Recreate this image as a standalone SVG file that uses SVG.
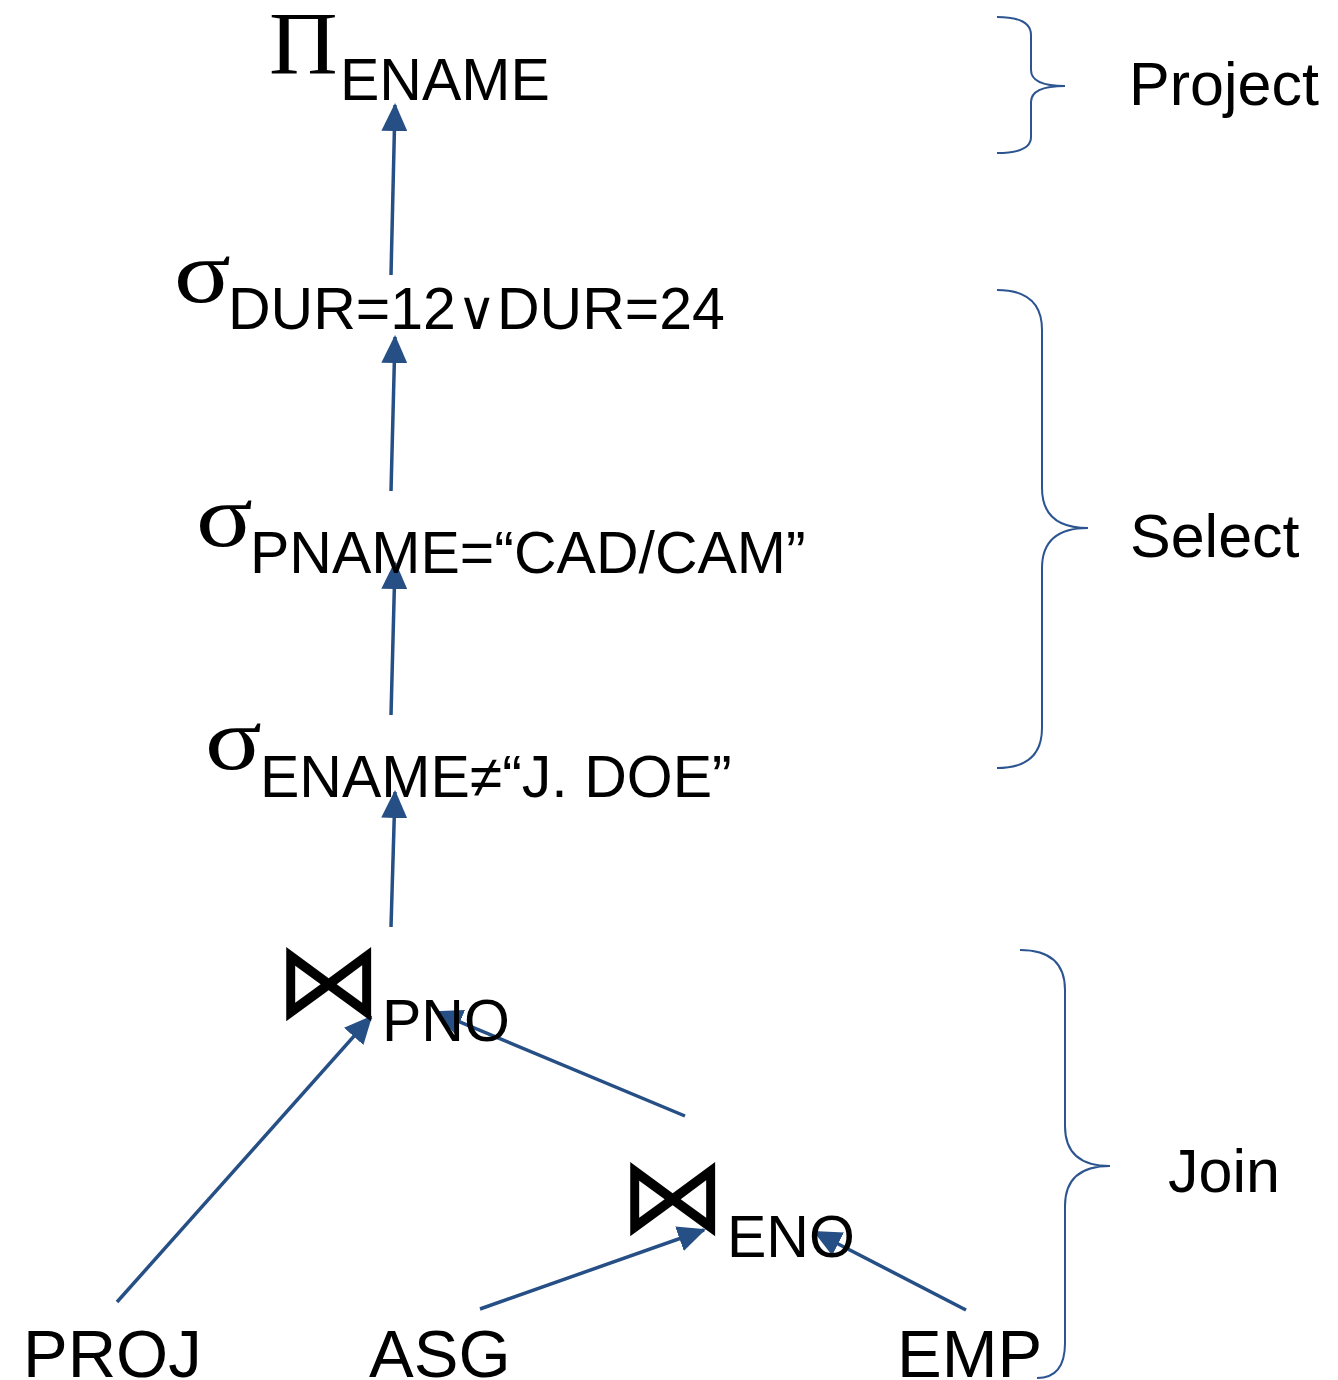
<svg xmlns="http://www.w3.org/2000/svg" width="1338" height="1380" viewBox="0 0 1338 1380">
  <style>
    .sans { font-family: "Liberation Sans", Arial, sans-serif; fill: #000; }
    .serif { font-family: "Liberation Serif", "Times New Roman", serif; fill: #000; }
    .sym { font-family: "DejaVu Sans", sans-serif; fill: #000; }
    .sub { font-size: 59px; }
    .base { font-size: 67px; }
    .phase { font-size: 61px; }
    .edge { stroke: #264F86; stroke-width: 3.5; fill: none; marker-end: url(#head); }
    .brace { stroke: #2B5490; stroke-width: 2; fill: none; }
  </style>
  <defs>
    <marker id="head" markerUnits="userSpaceOnUse" markerWidth="28" markerHeight="26" refX="26" refY="13" orient="auto">
      <path d="M0,0 L28,13 L0,26 Z" fill="#264F86"/>
    </marker>
  </defs>
  <rect width="1338" height="1380" fill="#fff"/>

  <!-- connectors (drawn first so labels sit on top) -->
  <g id="connectors">
    <line class="edge" x1="391" y1="275" x2="395" y2="105"/>
    <line class="edge" x1="391" y1="491" x2="395" y2="337"/>
    <line class="edge" x1="391" y1="715" x2="395" y2="563"/>
    <line class="edge" x1="391" y1="927" x2="395" y2="792"/>
    <line class="edge" x1="117" y1="1302" x2="371" y2="1017"/>
    <line class="edge" x1="685" y1="1116" x2="436" y2="1012"/>
    <line class="edge" x1="480" y1="1309" x2="704" y2="1230"/>
    <line class="edge" x1="966" y1="1310" x2="815" y2="1232"/>
  </g>

  <!-- projection -->
  <g id="project">
    <text class="serif" transform="translate(269,73) scale(1.08,1)" font-size="88">Π</text>
    <text class="sans sub" x="340" y="100">ENAME</text>
  </g>

  <!-- selections -->
  <g id="select-dur">
    <text class="serif" transform="translate(174,302) scale(1.2,1)" font-size="88">σ</text>
    <text class="sans sub" x="228" y="329">DUR=12</text>
    <text class="sym" x="457" y="329" font-size="54">∨</text>
    <text class="sans sub" x="497" y="329">DUR=24</text>
  </g>
  <g id="select-pname">
    <text class="serif" transform="translate(196,546) scale(1.2,1)" font-size="88">σ</text>
    <text class="sans sub" x="250" y="573">PNAME=“CAD/CAM”</text>
  </g>
  <g id="select-ename">
    <text class="serif" transform="translate(205,769) scale(1.2,1)" font-size="88">σ</text>
    <text class="sans sub" x="260" y="797">ENAME≠“J. DOE”</text>
  </g>

  <!-- joins -->
  <g id="join-pno">
    <text class="sym" x="275" y="1018" font-size="108">⋈</text>
    <text class="sans sub" x="382" y="1041">PNO</text>
  </g>
  <g id="join-eno">
    <text class="sym" x="619" y="1233" font-size="108">⋈</text>
    <text class="sans sub" x="727" y="1257">ENO</text>
  </g>

  <!-- base relations -->
  <g id="proj"><text class="sans base" x="23" y="1377">PROJ</text></g>
  <g id="asg"><text class="sans base" x="369" y="1377">ASG</text></g>
  <g id="emp"><text class="sans base" x="897" y="1377">EMP</text></g>

  <!-- phase braces -->
  <g id="brace-project">
    <path class="brace" d="M997,17 Q1031,17 1031,35 L1031,70 Q1031,86 1065,86 Q1031,86 1031,102 L1031,137 Q1031,153 997,153"/>
    <text class="sans phase" x="1129" y="105">Project</text>
  </g>
  <g id="brace-select">
    <path class="brace" d="M997,290 Q1042,290 1042,330 L1042,488 Q1042,528 1088,528 Q1042,528 1042,568 L1042,728 Q1042,768 997,768"/>
    <text class="sans phase" x="1130" y="557">Select</text>
  </g>
  <g id="brace-join">
    <path class="brace" d="M1020,950 Q1065,950 1065,990 L1065,1126 Q1065,1166 1110,1166 Q1065,1166 1065,1206 L1065,1343 Q1065,1378 1037,1378"/>
    <text class="sans phase" x="1168" y="1192">Join</text>
  </g>
</svg>
